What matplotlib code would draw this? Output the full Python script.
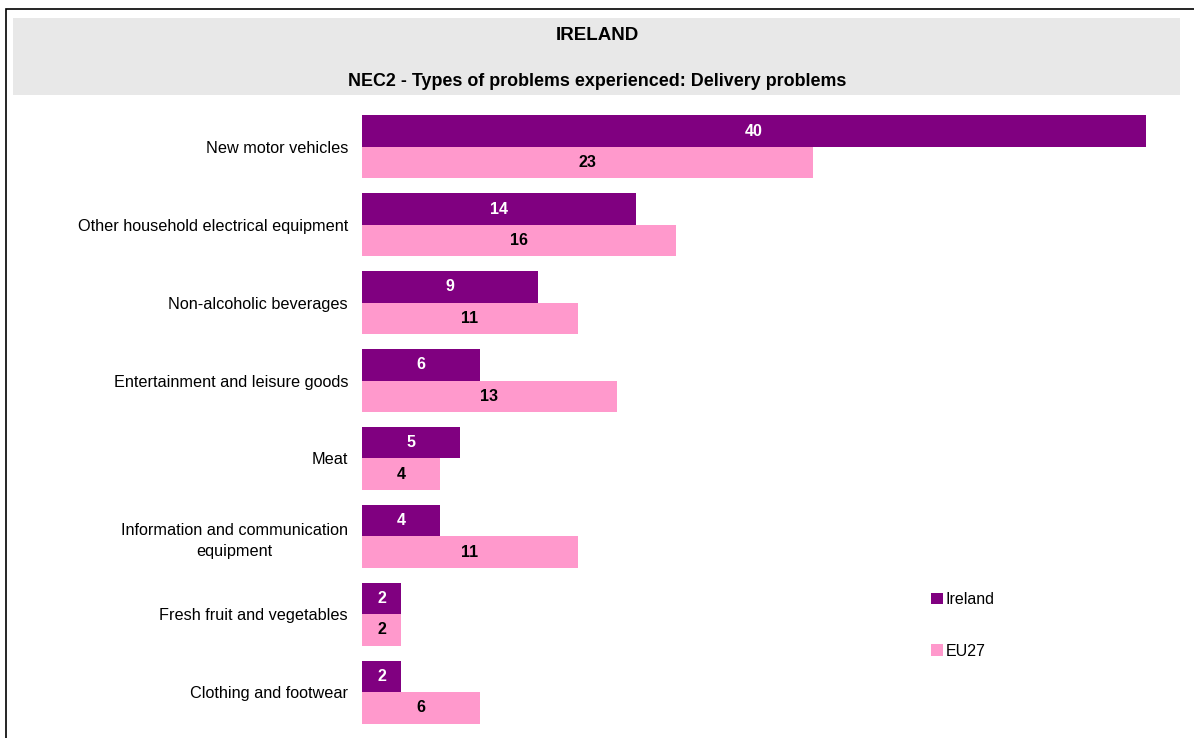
import matplotlib
matplotlib.use('Agg')
import matplotlib.pyplot as plt
from matplotlib.patches import Rectangle
import numpy as np

plt.rcParams['font.family'] = ['Liberation Sans', 'DejaVu Sans']

categories = ['New motor vehicles', 'Other household electrical equipment',
              'Non-alcoholic beverages', 'Entertainment and leisure goods',
              'Meat', 'Information and communication\nequipment',
              'Fresh fruit and vegetables', 'Clothing and footwear']
ireland = [40, 14, 9, 6, 5, 4, 2, 2]
eu27 = [23, 16, 11, 13, 4, 11, 2, 6]

W, H = 1194, 738
fig = plt.figure(figsize=(W / 100, H / 100), dpi=100)

# outer frame (bottom and right run off the page) and grey header
fig.patches.append(Rectangle((6 / W, -0.2), 1.2, 1.2 - 9 / H, transform=fig.transFigure,
                             fill=False, edgecolor='black', linewidth=1.2))
fig.patches.append(Rectangle((13 / W, 1 - 95 / H), 1167 / W, 77 / H, transform=fig.transFigure,
                             facecolor='#e8e8e8', edgecolor='none'))
fig.text(597 / W, 1 - 35 / H, 'IRELAND', ha='center', va='center',
         fontsize=13.5, fontweight='bold')
fig.text(597 / W, 1 - 81 / H, 'NEC2 - Types of problems experienced: Delivery problems',
         ha='center', va='center', fontsize=12.9, fontweight='bold')

xmax = 42
ax = fig.add_axes([362 / W, 1 - 731 / H, xmax * 19.6 / W, 623 / H])
y = np.arange(len(categories))
h = 0.404
b1 = ax.barh(y - h / 2, ireland, height=h, color='#800080', label='Ireland')
b2 = ax.barh(y + h / 2, eu27, height=h, color='#ff99cc', label='EU27')

for bar, v in zip(b1, ireland):
    ax.text(bar.get_width() / 2, bar.get_y() + bar.get_height() / 2, str(v),
            ha='center', va='center', color='white', fontweight='bold', fontsize=11.5)
for bar, v in zip(b2, eu27):
    ax.text(bar.get_width() / 2, bar.get_y() + bar.get_height() / 2, str(v),
            ha='center', va='center', color='black', fontweight='bold', fontsize=11.5)

ax.set_xlim(0, xmax)
ax.set_ylim(len(categories) - 0.5, -0.5)
ax.set_yticks(y)
ax.set_yticklabels(categories, fontsize=11.7, multialignment='center', linespacing=1.5)
ax.tick_params(axis='y', length=0, pad=10)
ax.set_xticks([])
for s in ax.spines.values():
    s.set_visible(False)

fig.legend(loc='upper left', bbox_to_anchor=(923 / W, 1 - 584 / H), frameon=False,
           fontsize=11.5, handlelength=0.75, handleheight=0.75, handletextpad=0.15,
           labelspacing=2.3, borderpad=0)

plt.savefig('out.png', dpi=100)
